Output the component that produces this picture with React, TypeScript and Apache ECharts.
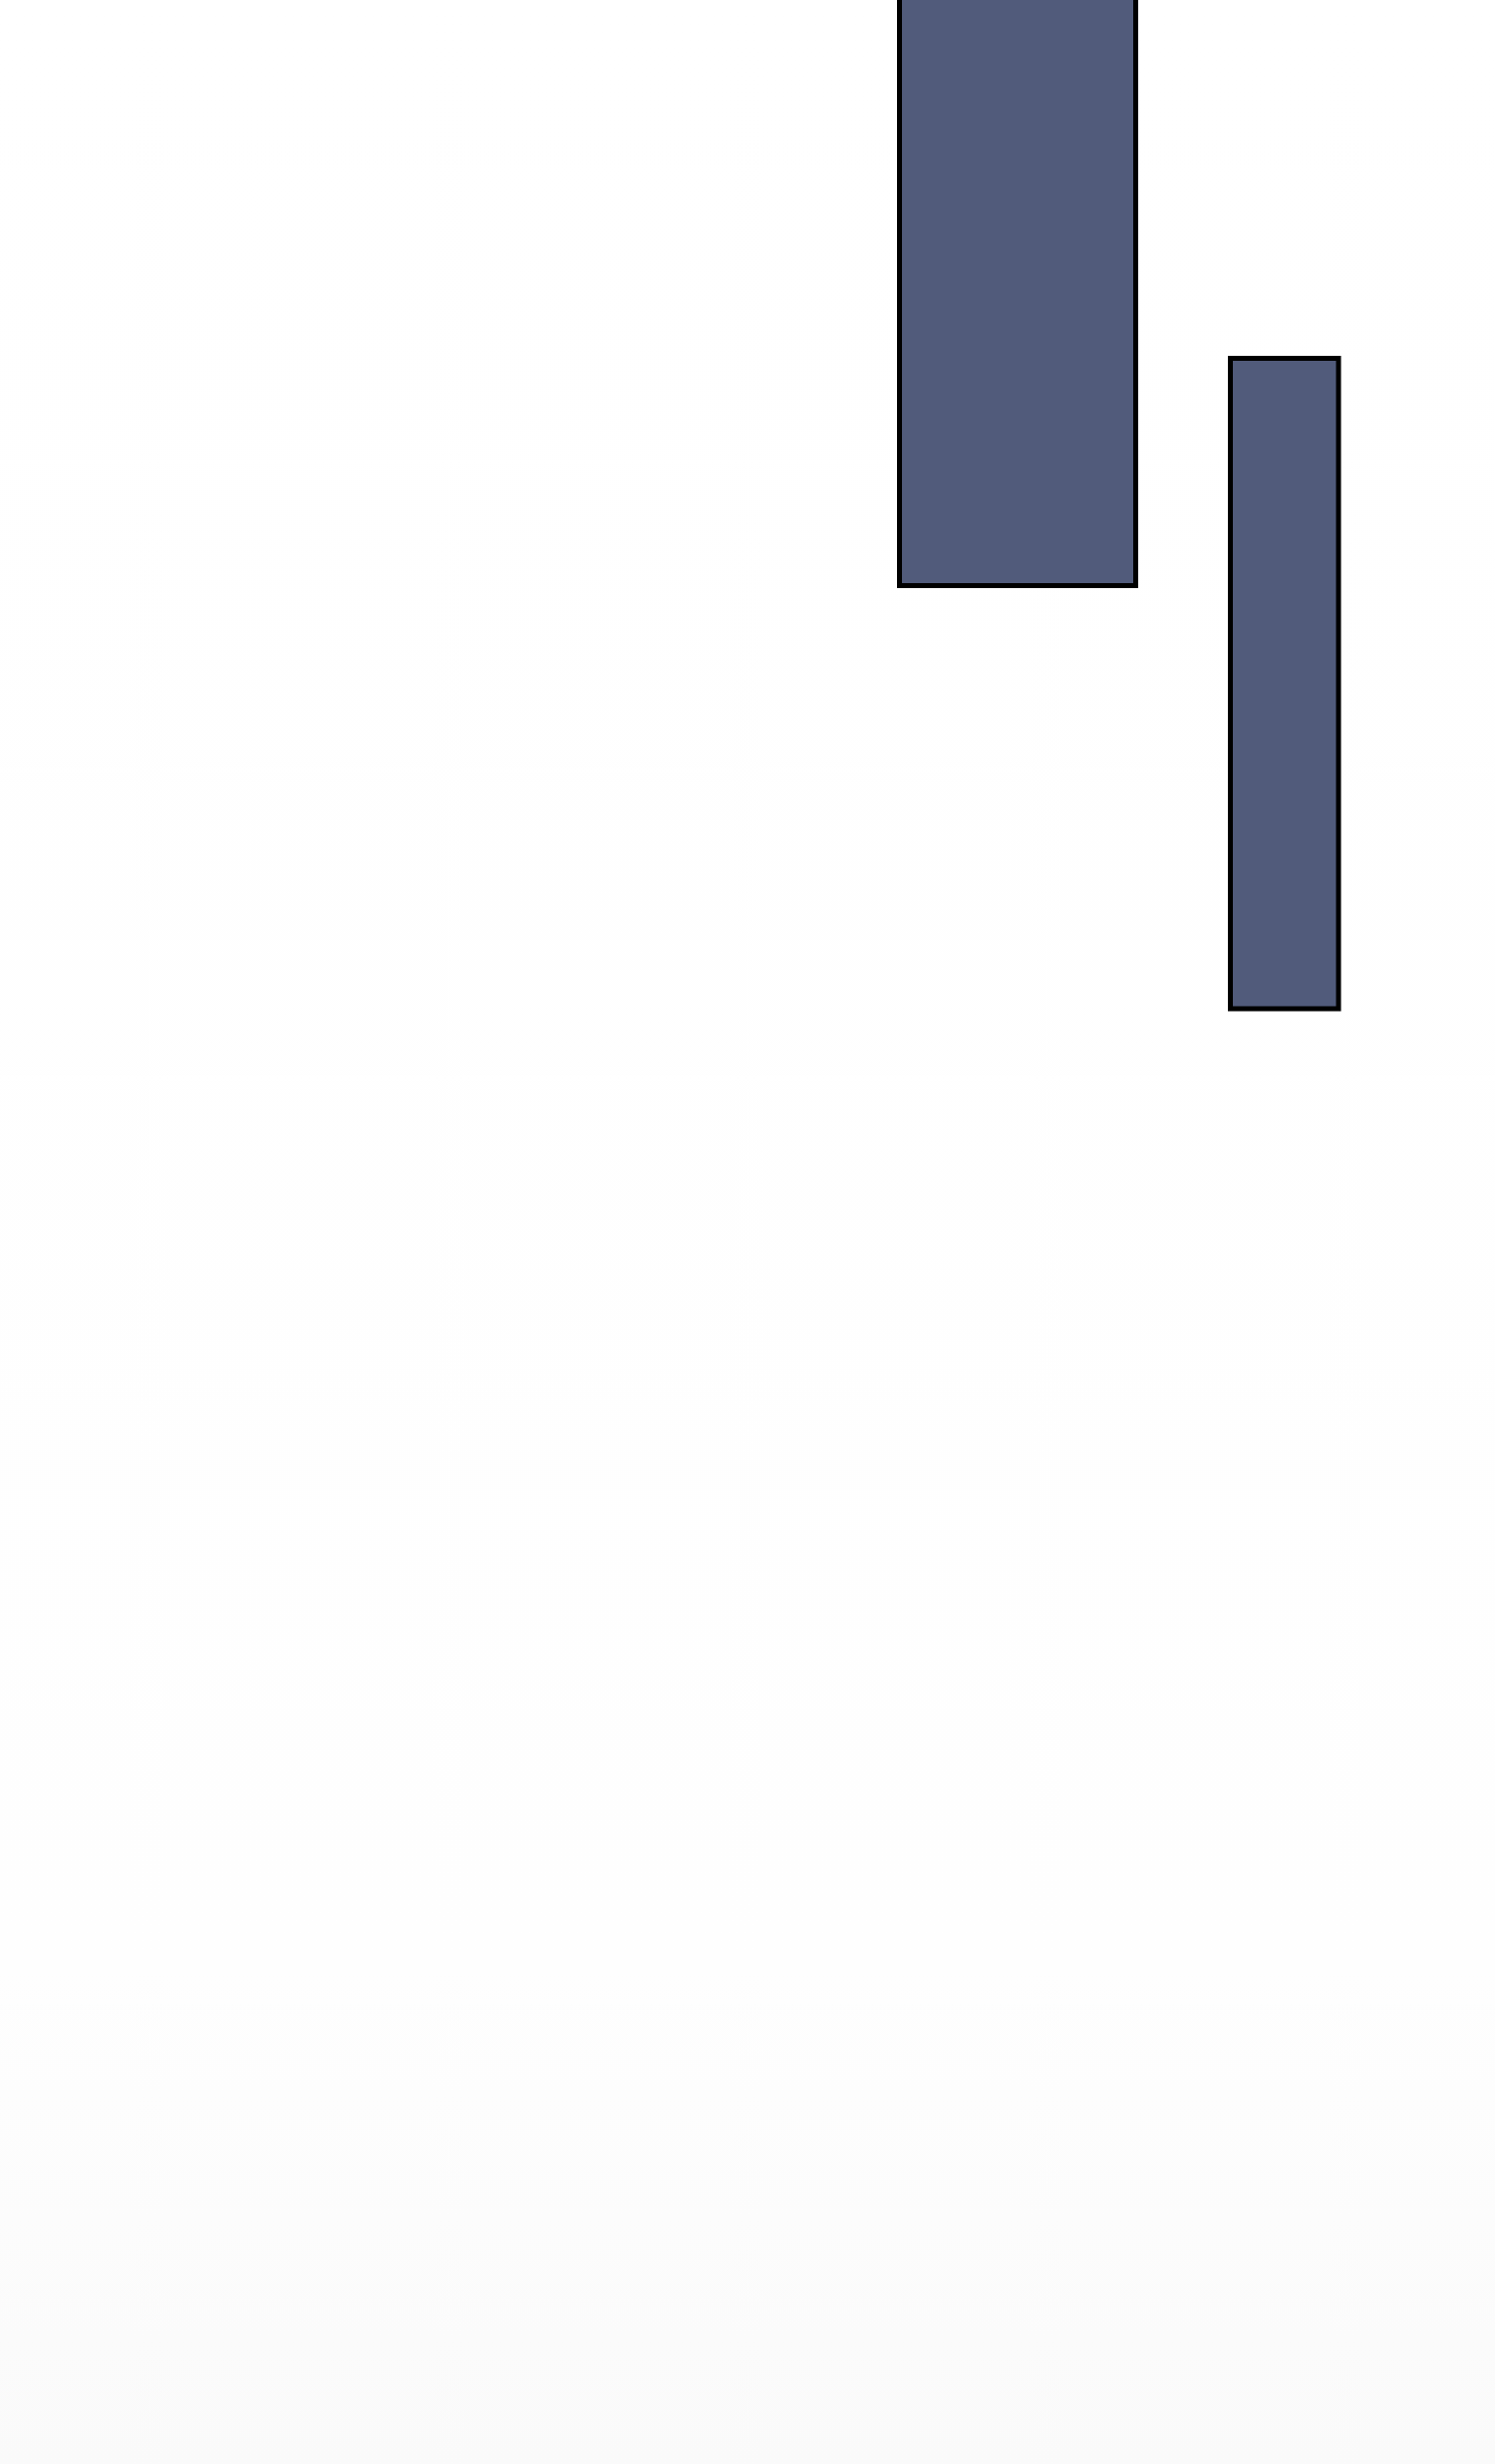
import { useEffect, useRef } from 'react'
import * as echarts from 'echarts'

// ===== 数据 =====
// 每个柱子: 左边界, 右边界 (x 轴单位)
const barStart = [18.05, 24.69]
const barEnd = [22.79, 26.86]
// 每个柱子: 下沿, 上沿 (y 轴单位)
const barLow = [76.23, 59.06]
const barHigh = [110, 85.46]

const X_MIN = 0
const X_MAX = 30
const Y_MIN = 0
const Y_MAX = 100

export default function App() {
  const ref = useRef<HTMLDivElement>(null)

  useEffect(() => {
    document.body.style.margin = '0'
    if (!ref.current) return
    const chart = echarts.init(ref.current, undefined, { renderer: 'svg' })

    const data = barStart.map((s, i) => [s, barEnd[i], barLow[i], barHigh[i]])

    chart.setOption({
      animation: false,
      backgroundColor: new echarts.graphic.LinearGradient(0, 0, 0, 1, [
        { offset: 0, color: '#ffffff' },
        { offset: 0.8, color: '#fefefe' },
        { offset: 1, color: '#fafafa' },
      ]),
      grid: { left: 0, right: 0, top: 0, bottom: 0 },
      xAxis: {
        type: 'value',
        min: X_MIN,
        max: X_MAX,
        show: false,
        splitLine: { show: false },
      },
      yAxis: {
        type: 'value',
        min: Y_MIN,
        max: Y_MAX,
        show: false,
        splitLine: { show: false },
      },
      series: [
        {
          type: 'custom',
          clip: true,
          data,
          encode: { x: [0, 1], y: [2, 3] },
          renderItem: (_params: unknown, api: any) => {
            const p0 = api.coord([api.value(0), api.value(3)])
            const p1 = api.coord([api.value(1), api.value(2)])
            return {
              type: 'rect',
              shape: { x: p0[0], y: p0[1], width: p1[0] - p0[0], height: p1[1] - p0[1] },
              style: { fill: '#515b7b', stroke: '#000000', lineWidth: 5 },
            }
          },
        },
      ],
    })

    return () => chart.dispose()
  }, [])

  return <div ref={ref} style={{ width: 1500, height: 2472 }} />
}
